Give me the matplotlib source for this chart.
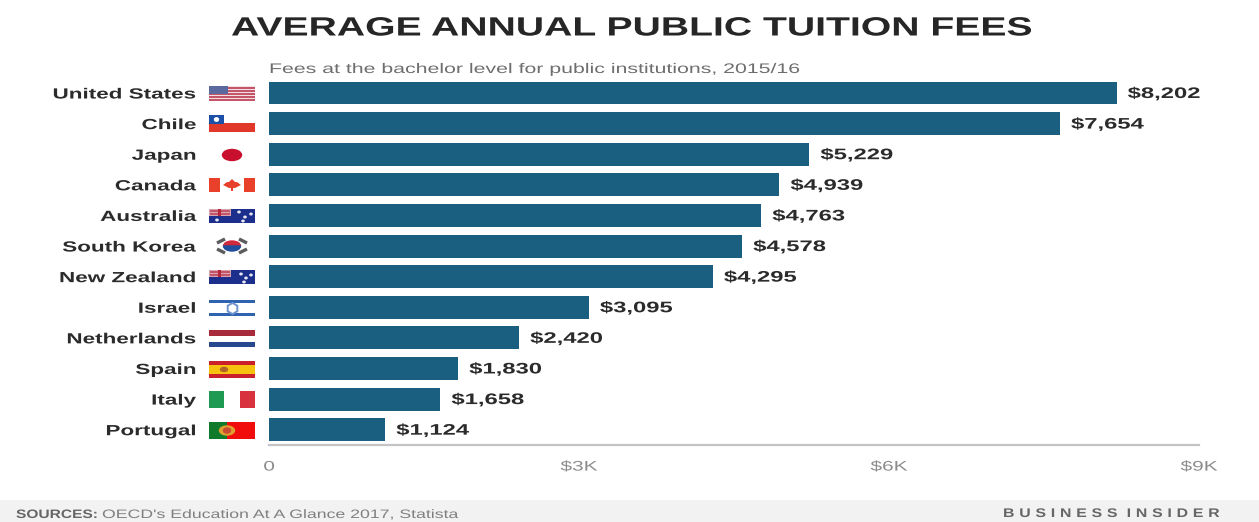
import matplotlib
matplotlib.use('Agg')
import numpy as np
import matplotlib.pyplot as plt
from matplotlib.patches import Rectangle, Ellipse, Wedge, Polygon
from matplotlib.patheffects import AbstractPathEffect
from matplotlib.path import Path
from matplotlib.transforms import Affine2D

W, H = 1259, 522
countries = ['United States', 'Chile', 'Japan', 'Canada', 'Australia', 'South Korea',
             'New Zealand', 'Israel', 'Netherlands', 'Spain', 'Italy', 'Portugal']
fees = [8202, 7654, 5229, 4939, 4763, 4578, 4295, 3095, 2420, 1830, 1658, 1124]
fee_labels = ['$8,202', '$7,654', '$5,229', '$4,939', '$4,763', '$4,578',
              '$4,295', '$3,095', '$2,420', '$1,830', '$1,658', '$1,124']
tick_values = [0, 3000, 6000, 9000]
tick_labels = ['0', '$3K', '$6K', '$9K']

BAR = '#1a5f80'
INK = '#2b2b2b'
GREY = '#8c8c8c'


class Stretch(AbstractPathEffect):
    '''
    Widens glyphs horizontally about the left, centre or right of the string,
    with optional extra tracking (in font units) between the letters.
    '''

    def __init__(self, sx, anchor='left', tracking=0.0):
        super().__init__()
        self.sx = sx
        self.anchor = anchor
        self.tracking = tracking

    def draw_path(self, renderer, gc, tpath, affine, rgbFace=None):
        if self.tracking:
            tpath = track_letters(tpath, self.tracking)
        x0, x1 = tpath.vertices[:, 0].min(), tpath.vertices[:, 0].max()
        pivot = {'left': x0, 'center': (x0 + x1) / 2, 'right': x1}[self.anchor]
        scale = Affine2D().translate(-pivot, 0).scale(self.sx, 1).translate(pivot, 0)
        renderer.draw_path(gc, tpath, scale + affine, rgbFace)


def track_letters(path, tracking):
    # contours overlapping in x belong to one glyph; shift each glyph further right
    verts = path.vertices.copy()
    starts = list(np.flatnonzero(path.codes == Path.MOVETO)) + [len(verts)]
    spans = [(verts[a:b, 0].min(), a, b) for a, b in zip(starts[:-1], starts[1:])]
    glyph, right = -1, -np.inf
    for _, a, b in sorted(spans):
        left = verts[a:b, 0].min()
        if left >= right:
            glyph += 1
        right = max(right, verts[a:b, 0].max())
        verts[a:b, 0] += glyph * tracking
    return Path(verts, path.codes)


def rect(ax, x, y, w, h, color):
    ax.add_patch(Rectangle((x, y), w, h, facecolor=color, edgecolor='none'))


def flag_us(ax, x, y):
    rect(ax, x, y, 46, 15, '#f3dfe1')
    for i in range(5):
        rect(ax, x, y + 1 + i * 3.1, 46, 1.6, '#c4566a')
    rect(ax, x, y, 19, 8, '#5a6a9e')


def flag_chile(ax, x, y):
    rect(ax, x, y + 8, 46, 9, '#e0382a')
    rect(ax, x, y, 15, 9, '#1c4fa8')
    ax.add_patch(Ellipse((x + 7.5, y + 4.5), 4, 3.4, color='white'))


def flag_japan(ax, x, y):
    ax.add_patch(Ellipse((x + 23, y + 8), 19, 11, color='#c8102e'))


def flag_canada(ax, x, y):
    rect(ax, x, y, 11.5, 14, '#e8402a')
    rect(ax, x + 35, y, 11, 14, '#e8402a')
    ax.add_patch(Polygon([(x + 23, y + 1), (x + 26, y + 4), (x + 28, y + 4), (x + 32, y + 7),
                          (x + 26, y + 10), (x + 24, y + 10), (x + 24, y + 13), (x + 22, y + 13),
                          (x + 22, y + 10), (x + 20, y + 10), (x + 14, y + 7), (x + 18, y + 4),
                          (x + 20, y + 4)], facecolor='#e8402a', edgecolor='none'))


def flag_blue_ensign(ax, x, y, stars):
    rect(ax, x, y, 46, 14, '#1c2f8c')
    rect(ax, x, y, 22, 7, '#d9a3b0')
    rect(ax, x + 1, y + 1, 20, 1.6, '#c4566a')
    rect(ax, x + 1, y + 4.2, 20, 1.6, '#c4566a')
    rect(ax, x + 9.5, y, 3, 7, '#b8283c')
    for sx, sy in stars:
        ax.add_patch(Ellipse((x + sx, y + sy), 2.2, 1.6, color='#e8e8f4'))


def flag_korea(ax, x, y):
    cx, cy = x + 23, y + 7
    squash = Affine2D().translate(-cx, -cy).scale(8.5, 5).translate(cx, cy) + ax.transData
    ax.add_patch(Wedge((cx, cy), 1, 180, 360, color='#d02a3c', transform=squash))
    ax.add_patch(Wedge((cx, cy), 1, 0, 180, color='#1f4e9c', transform=squash))
    for dx, dy in [(-11, -5), (11, -5), (-11, 5), (11, 5)]:
        tilt = 2 if dx * dy > 0 else -2
        ax.plot([cx + dx - 4, cx + dx + 4], [cy + dy + tilt, cy + dy - tilt],
                color='#5c5c5c', lw=2.4, solid_capstyle='butt')


def flag_israel(ax, x, y):
    rect(ax, x, y, 46, 3, '#2f62b0')
    rect(ax, x, y + 13, 46, 3, '#2f62b0')
    ax.plot(x + 23, y + 8, marker='h', ms=8, mfc='none', mec='#6f93cc', mew=1.4)


def flag_netherlands(ax, x, y):
    rect(ax, x, y, 46, 6, '#a82b3c')
    rect(ax, x, y + 12, 46, 5, '#27478f')


def flag_spain(ax, x, y):
    rect(ax, x, y, 46, 17, '#c9202c')
    rect(ax, x, y + 4, 46, 9, '#f7c20e')
    ax.add_patch(Ellipse((x + 15, y + 8.5), 7, 4, color='#b0642a'))


def flag_italy(ax, x, y):
    rect(ax, x, y, 15, 17, '#1f9a52')
    rect(ax, x + 31, y, 15, 17, '#d8323e')


def flag_portugal(ax, x, y):
    rect(ax, x, y, 46, 17, '#f20d0d')
    rect(ax, x, y, 18, 17, '#0f7a2a')
    ax.add_patch(Ellipse((x + 18, y + 8.5), 15, 9, color='#e0a030'))
    ax.add_patch(Ellipse((x + 18, y + 8.5), 7, 5, color='#c84a30'))


AU_STARS = [(8, 11), (30, 3), (36, 8), (42, 5), (34, 12)]
NZ_STARS = [(32, 4), (37, 8), (42, 5), (35, 12)]
flags = [
    (flag_us, 86),
    (flag_chile, 115),
    (flag_japan, 147),
    (flag_canada, 178),
    (lambda a, x, y: flag_blue_ensign(a, x, y, AU_STARS), 209),
    (flag_korea, 239),
    (lambda a, x, y: flag_blue_ensign(a, x, y, NZ_STARS), 270),
    (flag_israel, 300),
    (flag_netherlands, 330),
    (flag_spain, 361),
    (flag_italy, 391),
    (flag_portugal, 422),
]

plt.rcParams['font.family'] = 'Liberation Sans'
fig = plt.figure(figsize=(W / 100, H / 100), dpi=100, facecolor='white')

# full-figure overlay in pixel units, for the footer band, flags and headings
over = fig.add_axes([0, 0, 1, 1], zorder=0)
over.set_xlim(0, W)
over.set_ylim(H, 0)
over.axis('off')

rect(over, 0, 500, W, 22, '#f2f2f2')
over.text(231, 28.5, 'AVERAGE ANNUAL PUBLIC TUITION FEES', ha='left', va='center',
          fontsize=19, fontweight='bold', color='#262626',
          path_effects=[Stretch(1.483)])
over.text(269, 69, 'Fees at the bachelor level for public institutions, 2015/16',
          ha='left', va='center', fontsize=10, color='#6e6e6e',
          path_effects=[Stretch(1.532)])
over.text(16, 515, 'SOURCES:', ha='left', va='center', fontsize=8.8,
          fontweight='bold', color='#666666', path_effects=[Stretch(1.27)])
over.text(102, 515, "OECD's Education At A Glance 2017, Statista", ha='left', va='center',
          fontsize=8.8, color='#808080', path_effects=[Stretch(1.447)])
over.text(1003, 514, 'BUSINESS INSIDER', ha='left', va='center',
          fontsize=9, color='#666666', fontweight='bold',
          path_effects=[Stretch(1.27, tracking=30)])

for draw_flag, top in flags:
    draw_flag(over, 209, top)

# bar chart, axes box placed so that 0 and $9K land on the chart's edges
ax = fig.add_axes([269 / W, 1 - 445 / H, (1199 - 269) / W, (445 - 77.7) / H], zorder=1)
ax.patch.set_alpha(0)
ax.barh(range(len(countries)), fees, height=0.75, color=BAR)
ax.set_xlim(0, 9000)
ax.set_ylim(11.5, -0.5)

for i, (v, lab) in enumerate(zip(fees, fee_labels)):
    ax.annotate(lab, (v, i), xytext=(8, -0.7), textcoords='offset points', ha='left',
                va='center', fontsize=11, fontweight='bold', color=INK,
                path_effects=[Stretch(1.558)])

ax.set_yticks(range(len(countries)))
ax.set_yticklabels(countries, fontsize=10.6, fontweight='bold', color=INK,
                   path_effects=[Stretch(1.526, anchor='right')])
ax.tick_params(axis='y', length=0, pad=52.6)
ax.set_xticks(tick_values)
ax.set_xticklabels(tick_labels, fontsize=10, color=GREY,
                   path_effects=[Stretch(1.5, anchor='center')])
ax.tick_params(axis='x', length=0, pad=10.5)

for side in ['top', 'right', 'left']:
    ax.spines[side].set_visible(False)
ax.spines['bottom'].set_color('#c4c4c4')
ax.spines['bottom'].set_linewidth(1.6)

fig.savefig('out.png', dpi=100)
